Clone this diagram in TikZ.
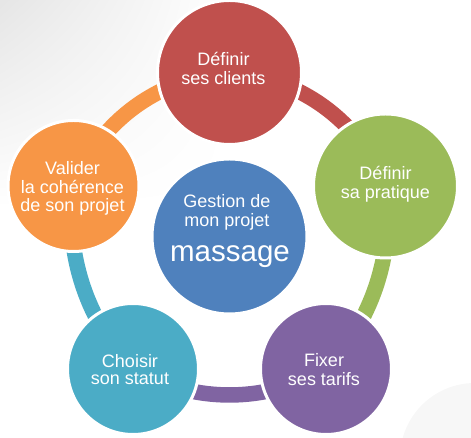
\documentclass[tikz,border=0pt]{standalone}
\usepackage{fontspec}
\setmainfont{Liberation Sans}
\usetikzlibrary{shadings}
\definecolor{cred}{HTML}{C0504D}
\definecolor{cgreen}{HTML}{9BBB59}
\definecolor{cpurple}{HTML}{8064A2}
\definecolor{cteal}{HTML}{4BACC6}
\definecolor{corange}{HTML}{F79646}
\definecolor{cblue}{HTML}{4F81BD}
\newcommand{\twolines}[1]{\begin{tabular}[t]{@{}c@{}}#1\end{tabular}}
\begin{document}
\begin{tikzpicture}[x=1pt,y=1pt,
  bubble/.style={circle, draw=white, line width=3pt, inner sep=0pt},
  band/.style={line width=15.5pt},
  txt/.style={text=white, anchor=base, inner sep=0pt, font=\fontsize{18}{17.6}\selectfont}]
\useasboundingbox (0,0) rectangle (471,438);
% background
\shade[upper left=black!10, upper right=white, lower left=white, lower right=white] (0,230) rectangle (230,438);
\fill[black!3] (475,-20) circle (75);
% circle centres
\coordinate (pr) at (229.5,365.5);
\coordinate (pg) at (385.5,252);
\coordinate (pp) at (326,69);
\coordinate (pt) at (133,69);
\coordinate (po) at (73.5,252);
% bands
\draw[band, cred]    (pr) to[bend left=32, looseness=0.93] (pg);
\draw[band, cgreen]  (pg) to[bend left=26, looseness=0.89] (pp);
\draw[band, cpurple] (pp) to[bend left=30, looseness=0.92] (pt);
\draw[band, cteal]   (pt) to[bend left=26, looseness=0.89] (po);
\draw[band, corange] (po) to[bend left=32, looseness=0.93] (pr);
% circles
\node[bubble, fill=cred,    minimum size=144pt] (red)    at (pr) {};
\node[bubble, fill=cgreen,  minimum size=144pt] (green)  at (pg) {};
\node[bubble, fill=cpurple, minimum size=131pt] (purple) at (pp) {};
\node[bubble, fill=cteal,   minimum size=131pt] (teal)   at (pt) {};
\node[bubble, fill=corange, minimum size=131pt] (orange) at (po) {};
\node[bubble, fill=cblue,   minimum size=155pt] (blue)   at (229.5,201.5) {};
% texts
\node[txt] (tred)    at (223.5,372) {\twolines{Définir\\ses clients}};
\node[txt] (tgreen)  at (385.5,258) {\twolines{Définir\\sa pratique}};
\node[txt] (tpurple) at (324,71)    {\twolines{Fixer\\ses tarifs}};
\node[txt] (tteal)   at (130,70.7)  {\twolines{Choisir\\son statut}};
\node[txt] (torange) at (72.5,263)  {\twolines{Valider\\la cohérence\\de son projet}};
\node[txt] (tblue)   at (227,230)   {\twolines{Gestion de\\mon projet}};
\node[txt, font=\fontsize{29.5}{30}\selectfont] (tmass) at (230,176.3) {massage};
\end{tikzpicture}
\end{document}
